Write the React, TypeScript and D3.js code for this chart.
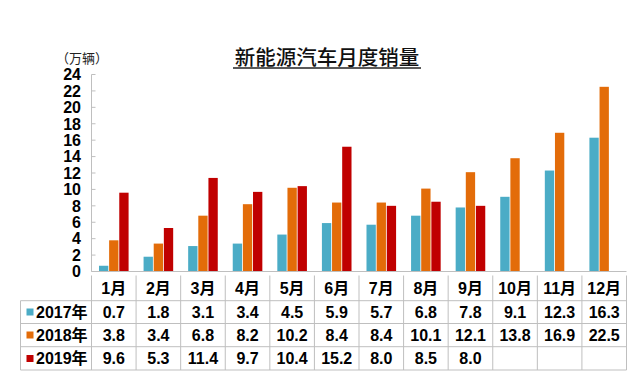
import React from "react";
import * as d3 from "d3";

const months = ["1月", "2月", "3月", "4月", "5月", "6月", "7月", "8月", "9月", "10月", "11月", "12月"];
const seriesNames = ["2017年", "2018年", "2019年"];
const colors = ["#4BACC6", "#E36C09", "#C00000"];
const v2017 = [0.7, 1.8, 3.1, 3.4, 4.5, 5.9, 5.7, 6.8, 7.8, 9.1, 12.3, 16.3];
const v2018 = [3.8, 3.4, 6.8, 8.2, 10.2, 8.4, 8.4, 10.1, 12.1, 13.8, 16.9, 22.5];
const v2019: (number | null)[] = [9.6, 5.3, 11.4, 9.7, 10.4, 15.2, 8.0, 8.5, 8.0, null, null, null];
const yTicks = [0, 2, 4, 6, 8, 10, 12, 14, 16, 18, 20, 22, 24];
const title = "新能源汽车月度销量";
const unitLabel = "（万辆）";

const W = 640;
const H = 382;
const FONT = "'Liberation Sans', Arial, 'Noto Sans CJK SC', sans-serif";
const GRID = "#BFBFBF";

export default function App() {
  const data = [v2017, v2018, v2019];
  const left = 91.5;
  const right = 626.5;
  const y = d3.scaleLinear().domain([0, 24]).range([271.5, 74.5]);
  const x0 = d3.scaleBand<string>().domain(months).range([left, right]);
  const x1 = d3
    .scaleBand<string>()
    .domain(seriesNames)
    .range([-14.8, 14.8])
    .paddingInner(0.08);

  const tableTop = 275.5;
  const rowLines = [300.7, 323.5, 346.7, 370];
  const tableLeft = 20.5;
  const rowCenters = [288.5, 312, 335, 358.5];
  const fmt = (v: number | null) => (v == null ? "" : v.toFixed(1));

  return (
    <svg
      width={W}
      height={H}
      style={{ position: "absolute", left: 0, top: 0, background: "#fff" }}
    >
      <rect x={0} y={0} width={W} height={H} fill="#fff" />
      {/* Title */}
      <text
        x={327}
        y={65}
        textAnchor="middle"
        fontFamily="'Noto Sans CJK SC', sans-serif"
        fontWeight={500}
        fontSize={20.5}
        fill="#111"
      >
        {title}
      </text>
      <line x1={233} x2={421} y1={68} y2={68} stroke="#222" strokeWidth={1.4} />
      {/* Unit label */}
      <text
        x={56}
        y={62.5}
        fontFamily="'Noto Sans CJK SC', sans-serif"
        fontSize={13}
        fill="#222"
      >
        {unitLabel}
      </text>
      {/* Y axis */}
      <line x1={left} x2={left} y1={y(24)} y2={y(0)} stroke={GRID} strokeWidth={1} />
      {yTicks.map((t) => (
        <g key={t}>
          <line x1={left} x2={left + 4} y1={y(t)} y2={y(t)} stroke={GRID} strokeWidth={1} />
          <text
            x={81}
            y={y(t)}
            dy="0.36em"
            textAnchor="end"
            fontFamily={FONT}
            fontWeight="bold"
            fontSize={16}
            fill="#000"
          >
            {t}
          </text>
        </g>
      ))}
      {/* Bars */}
      {data.map((vals, si) =>
        vals.map((v, mi) =>
          v == null ? null : (
            <rect
              key={`${si}-${mi}`}
              x={(x0(months[mi]) as number) + x0.bandwidth() / 2 + (x1(seriesNames[si]) as number)}
              y={y(v)}
              width={x1.bandwidth()}
              height={y(0) - y(v)}
              fill={colors[si]}
            />
          )
        )
      )}
      {/* X axis */}
      <line x1={left} x2={right} y1={y(0)} y2={y(0)} stroke={GRID} strokeWidth={1} />
      {/* Table grid */}
      {months.map((m) => (
        <line
          key={`v-${m}`}
          x1={x0(m) as number}
          x2={x0(m) as number}
          y1={tableTop}
          y2={rowLines[3]}
          stroke={GRID}
          strokeWidth={1}
        />
      ))}
      <line x1={right} x2={right} y1={tableTop} y2={rowLines[3]} stroke={GRID} strokeWidth={1} />
      <line x1={tableLeft} x2={tableLeft} y1={rowLines[0]} y2={rowLines[3]} stroke={GRID} strokeWidth={1} />
      {rowLines.map((ry, i) => (
        <line key={`h-${i}`} x1={tableLeft} x2={right} y1={ry} y2={ry} stroke={GRID} strokeWidth={1} />
      ))}
      {/* Header row */}
      {months.map((m) => (
        <text
          key={`hd-${m}`}
          x={(x0(m) as number) + x0.bandwidth() / 2}
          y={rowCenters[0]}
          dy="0.36em"
          textAnchor="middle"
          fontFamily={FONT}
          fontWeight="bold"
          fontSize={16}
          fill="#000"
        >
          {m}
        </text>
      ))}
      {/* Data rows */}
      {data.map((vals, si) => (
        <g key={`row-${si}`}>
          <rect x={26.5} y={rowCenters[si + 1] - 3.5} width={7} height={7} fill={colors[si]} />
          <text
            x={36}
            y={rowCenters[si + 1]}
            dy="0.36em"
            fontFamily={FONT}
            fontWeight="bold"
            fontSize={16}
            fill="#000"
          >
            {seriesNames[si]}
          </text>
          {vals.map((v, mi) => (
            <text
              key={`c-${si}-${mi}`}
              x={(x0(months[mi]) as number) + x0.bandwidth() / 2}
              y={rowCenters[si + 1]}
              dy="0.36em"
              textAnchor="middle"
              fontFamily={FONT}
              fontWeight="bold"
              fontSize={16}
              fill="#000"
            >
              {fmt(v)}
            </text>
          ))}
        </g>
      ))}
    </svg>
  );
}
